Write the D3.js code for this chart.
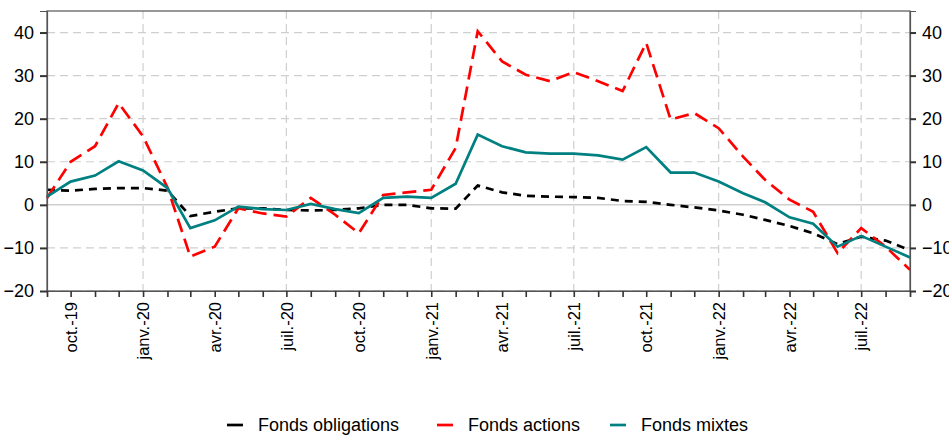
<!DOCTYPE html>
<html>
<head>
<meta charset="utf-8">
<script src="https://cdn.jsdelivr.net/npm/d3@7"></script>
<style>
  body { margin: 0; background: #fff; }
  svg { display: block; font-family: Arial, "Liberation Sans", sans-serif; }
</style>
</head>
<body>
<div id="chart"></div>
<script>
// monthly, sept. 2019 -> sept. 2022
const months = d3.range(37).map(i => new Date(2019, 8 + i, 1));

const obligations = [3.5, 3.3, 3.7, 3.9, 3.9, 3.3, -2.6, -1.6, -0.8, -0.8, -1.2, -1.3, -1.2,
  -0.8, 0, 0, -0.8, -0.9, 4.5, 2.9, 2.1, 1.9, 1.8, 1.6, 0.9, 0.7,
  0, -0.6, -1.3, -2.3, -3.5, -4.9, -6.6, -9.1, -7.4, -8.3, -10.5];

const actions = [1.6, 10, 13.6, 23.6, 15.9, 4, -12, -9.7, -0.8, -2, -2.7, 1.6, -2.3,
  -6.6, 2.3, 2.9, 3.5, 13.2, 40.3, 33.3, 30.2, 28.7, 30.8, 28.7, 26.4, 37.6,
  19.8, 21.3, 17.8, 11.2, 5.8, 1.2, -1.6, -11.2, -5.4, -9.7, -15.1];

const mixtes = [1.9, 5.4, 6.8, 10.1, 8, 3.9, -5.4, -3.6, -0.4, -1, -1.2, 0.2, -1,
  -1.9, 1.6, 1.9, 1.6, 4.9, 16.3, 13.6, 12.2, 11.9, 11.9, 11.5, 10.5, 13.4,
  7.5, 7.5, 5.4, 2.7, 0.6, -2.9, -4.4, -9.7, -7.2, -9.7, -12.2];

const yTicks = [-20, -10, 0, 10, 20, 30, 40];
const monthNames = ['janv.', 'févr.', 'mars', 'avr.', 'mai', 'juin', 'juil.', 'août', 'sept.', 'oct.', 'nov.', 'déc.'];

const series = [
  { name: 'Fonds obligations', values: obligations, color: '#000000', dash: '8,6' },
  { name: 'Fonds actions', values: actions, color: '#ff0000', dash: '14,7' },
  { name: 'Fonds mixtes', values: mixtes, color: '#008080', dash: null }
];

const W = 949, H = 435;
const margin = { top: 11, right: 39, bottom: 144, left: 47 };
const w = W - margin.left - margin.right;
const h = H - margin.top - margin.bottom;

const svg = d3.select('#chart').append('svg')
  .attr('width', W)
  .attr('height', H);

const g = svg.append('g')
  .attr('transform', `translate(${margin.left},${margin.top})`);

const x = d3.scaleTime()
  .domain([months[0], months[months.length - 1]])
  .range([0, w]);

const y = d3.scaleLinear()
  .domain([-20, 45])
  .range([h, 0]);

// Grid
g.append('g')
  .selectAll('line')
  .data(yTicks.filter(t => t !== 0))
  .join('line')
  .attr('x1', 0).attr('x2', w)
  .attr('y1', d => y(d)).attr('y2', d => y(d))
  .attr('stroke', '#cfcfcf')
  .attr('stroke-width', 1.2)
  .attr('stroke-dasharray', '8,5');

g.append('g')
  .selectAll('line')
  .data(months.filter(m => m.getMonth() === 0 || m.getMonth() === 6))
  .join('line')
  .attr('x1', d => x(d)).attr('x2', d => x(d))
  .attr('y1', 0).attr('y2', h)
  .attr('stroke', '#cfcfcf')
  .attr('stroke-width', 1.2)
  .attr('stroke-dasharray', '8,5');

g.append('line')
  .attr('x1', 0).attr('x2', w)
  .attr('y1', y(0)).attr('y2', y(0))
  .attr('stroke', '#cfcfcf')
  .attr('stroke-width', 1.5);

// Lines
const line = d3.line()
  .x((d, i) => x(months[i]))
  .y(d => y(d));

series.forEach(s => {
  g.append('path')
    .datum(s.values)
    .attr('fill', 'none')
    .attr('stroke', s.color)
    .attr('stroke-width', 2.7)
    .attr('stroke-dasharray', s.dash)
    .attr('d', line);
});

// Frame
g.append('rect')
  .attr('width', w).attr('height', h)
  .attr('fill', 'none')
  .attr('stroke', '#555')
  .attr('stroke-width', 1.2);

// Axes
const styleAxis = sel => {
  sel.select('.domain').attr('stroke', '#555').attr('stroke-width', 1.2);
  sel.selectAll('.tick line').attr('stroke', '#333').attr('stroke-width', 2);
  sel.selectAll('.tick text').attr('fill', '#000');
};

g.append('g')
  .call(d3.axisLeft(y).tickValues(yTicks).tickSize(7).tickPadding(6))
  .call(styleAxis)
  .selectAll('text').style('font-size', '18px');

g.append('g')
  .attr('transform', `translate(${w},0)`)
  .call(d3.axisRight(y).tickValues(yTicks).tickSize(6).tickPadding(6))
  .call(styleAxis)
  .selectAll('text').style('font-size', '18px');

const xAxis = g.append('g')
  .attr('transform', `translate(0,${h})`)
  .call(d3.axisBottom(x).tickValues(months).tickSize(6)
    .tickFormat(d => d.getMonth() % 3 === 0
      ? `${monthNames[d.getMonth()]}-${String(d.getFullYear()).slice(2)}` : ''))
  .call(styleAxis);

xAxis.selectAll('.tick line').attr('stroke-width', 1.6);

xAxis.selectAll('.tick text')
  .attr('transform', 'rotate(-90)')
  .attr('text-anchor', 'end')
  .attr('x', -11)
  .attr('y', 0)
  .attr('dy', '0.35em')
  .style('font-size', '16.5px');

// Legend
const legend = svg.append('g')
  .attr('transform', `translate(0,${H - 10})`);

const legendX = [227, 437, 610];
series.forEach((s, i) => {
  const item = legend.append('g').attr('transform', `translate(${legendX[i]},0)`);
  item.append('line')
    .attr('x1', 0).attr('x2', 16)
    .attr('y1', 0).attr('y2', 0)
    .attr('stroke', s.color)
    .attr('stroke-width', 2.7);
  item.append('text')
    .attr('x', 31)
    .attr('y', 0)
    .attr('dy', '0.35em')
    .style('font-size', '18px')
    .attr('fill', '#000')
    .text(s.name);
});
</script>
</body>
</html>
